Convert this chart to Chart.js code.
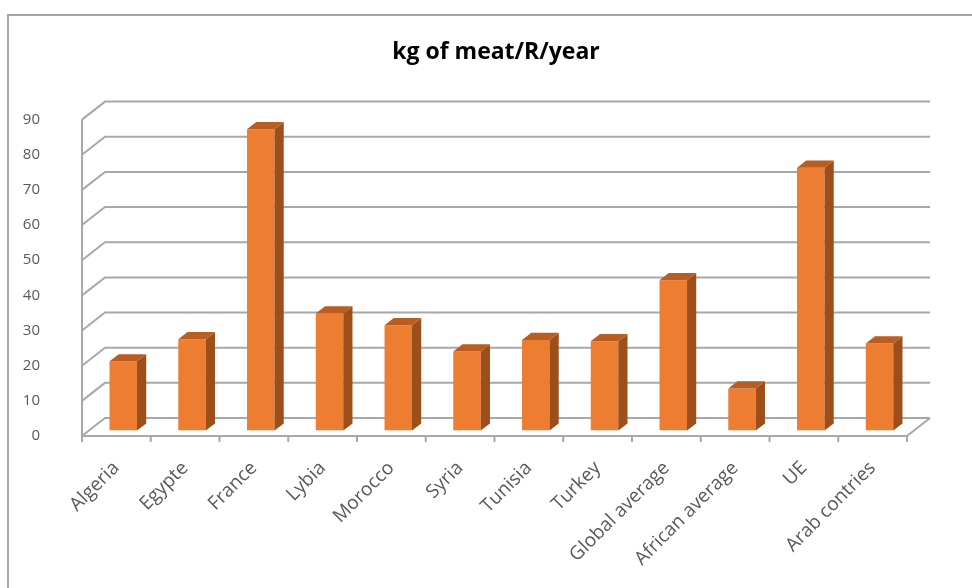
<!DOCTYPE html>
<html>
<head>
<meta charset="utf-8">
<title>kg of meat/R/year</title>
<script src="https://cdn.jsdelivr.net/npm/chart.js@4.4.1/dist/chart.umd.min.js"></script>
<style>
    html, body {
        margin: 0;
        padding: 0;
        background: #ffffff;
    }
    .chart-container {
        position: relative;
        width: 972px;
        height: 588px;
    }
</style>
</head>
<body>
<div class="chart-container">
    <canvas id="meatChart" width="972" height="588"></canvas>
</div>
<script>
// 数据
const categories = ['Algeria', 'Egypte', 'France', 'Lybia', 'Morocco', 'Syria',
    'Tunisia', 'Turkey', 'Global average', 'African average', 'UE', 'Arab contries'];
const meatValues = [19.7, 26.0, 85.7, 33.3, 30.0, 22.5, 25.8, 25.4, 42.8, 12.0, 74.8, 24.8];
const yTicks = [0, 10, 20, 30, 40, 50, 60, 70, 80, 90];

// 3D 深度偏移
const DEPTH_X = 23;
const DEPTH_Y = 18;
const BAR_PLANE = 0.3;   // 柱子正面所在深度
const BAR_DEPTH = 0.4;   // 柱子厚度

const GRID_COLOR = '#a8a8a8';
const FRONT_COLOR = '#ed7d31';
const SIDE_COLOR = '#9c4e1b';
const TOP_COLOR = '#b95d20';

// 外框
const framePlugin = {
    id: 'frame',
    beforeDraw(chart) {
        const ctx = chart.ctx;
        ctx.save();
        ctx.strokeStyle = '#a6a6a6';
        ctx.lineWidth = 2;
        ctx.strokeRect(8, 15, 1200, 1200);
        ctx.restore();
    }
};

// 背景墙、地板和立体柱
const box3dPlugin = {
    id: 'box3d',
    beforeDatasetsDraw(chart) {
        const ctx = chart.ctx;
        const area = chart.chartArea;
        const y = chart.scales.y;

        ctx.save();
        ctx.strokeStyle = GRID_COLOR;
        ctx.lineWidth = 2;
        ctx.beginPath();

        // 网格线：左侧斜线 + 背景墙横线
        yTicks.forEach(v => {
            const py = y.getPixelForValue(v);
            ctx.moveTo(area.left, py);
            ctx.lineTo(area.left + DEPTH_X, py - DEPTH_Y);
            ctx.lineTo(area.right + DEPTH_X, py - DEPTH_Y);
        });

        // 前面的坐标轴
        ctx.moveTo(area.left, area.top);
        ctx.lineTo(area.left, area.bottom);
        ctx.lineTo(area.right, area.bottom);
        ctx.lineTo(area.right + DEPTH_X, area.bottom - DEPTH_Y);

        // 分类刻度
        const step = (area.right - area.left) / categories.length;
        for (let i = 0; i <= categories.length; i++) {
            const px = area.left + step * i;
            ctx.moveTo(px, area.bottom);
            ctx.lineTo(px, area.bottom + 6);
        }
        ctx.stroke();
        ctx.restore();

        // 柱子画在中间深度
        ctx.save();
        ctx.translate(DEPTH_X * BAR_PLANE, -DEPTH_Y * BAR_PLANE);
    },
    afterDatasetsDraw(chart) {
        const ctx = chart.ctx;
        const bdx = DEPTH_X * BAR_DEPTH;
        const bdy = DEPTH_Y * BAR_DEPTH;

        chart.getDatasetMeta(0).data.forEach(bar => {
            const p = bar.getProps(['x', 'y', 'base', 'width'], true);
            const l = p.x - p.width / 2;
            const r = p.x + p.width / 2;

            // 侧面
            ctx.fillStyle = SIDE_COLOR;
            ctx.beginPath();
            ctx.moveTo(r, p.y);
            ctx.lineTo(r + bdx, p.y - bdy);
            ctx.lineTo(r + bdx, p.base - bdy);
            ctx.lineTo(r, p.base);
            ctx.closePath();
            ctx.fill();

            // 顶面
            ctx.fillStyle = TOP_COLOR;
            ctx.beginPath();
            ctx.moveTo(l, p.y);
            ctx.lineTo(l + bdx, p.y - bdy);
            ctx.lineTo(r + bdx, p.y - bdy);
            ctx.lineTo(r, p.y);
            ctx.closePath();
            ctx.fill();
        });

        ctx.restore();
    }
};

document.addEventListener('DOMContentLoaded', function() {
    initChart();
});

function initChart() {
    Chart.defaults.font.family = "'Open Sans', sans-serif";
    Chart.defaults.color = '#595959';

    const ctx = document.getElementById('meatChart').getContext('2d');
    window.meatChart = new Chart(ctx, {
        type: 'bar',
        data: {
            labels: categories,
            datasets: [{
                label: 'kg of meat/R/year',
                data: meatValues,
                backgroundColor: FRONT_COLOR,
                borderWidth: 0,
                barPercentage: 0.4,
                categoryPercentage: 1.0
            }]
        },
        options: {
            responsive: false,
            animation: false,
            layout: {
                padding: { left: 20, right: 0, top: 0, bottom: 0 }
            },
            plugins: {
                legend: { display: false },
                tooltip: { enabled: false },
                title: {
                    display: true,
                    text: 'kg of meat/R/year',
                    color: '#000000',
                    font: { size: 23, weight: 'bold', family: "'Open Sans', sans-serif" },
                    padding: { top: 39, bottom: 53 }
                }
            },
            scales: {
                x: {
                    grid: { display: false },
                    border: { display: false },
                    ticks: {
                        autoSkip: false,
                        minRotation: 45,
                        maxRotation: 45,
                        padding: 13,
                        font: { size: 19 }
                    },
                    afterFit(scale) {
                        scale.height = 152;
                    }
                },
                y: {
                    min: 0,
                    max: 90,
                    grid: { display: false },
                    border: { display: false },
                    ticks: {
                        stepSize: 10,
                        padding: 34,
                        font: { size: 15 }
                    },
                    afterFit(scale) {
                        scale.width = 62;
                    }
                },
                // 右侧留白
                yRight: {
                    position: 'right',
                    display: true,
                    grid: { display: false },
                    border: { display: false },
                    ticks: { display: false },
                    afterFit(scale) {
                        scale.width = 65;
                    }
                }
            }
        },
        plugins: [framePlugin, box3dPlugin]
    });
}
</script>
</body>
</html>
